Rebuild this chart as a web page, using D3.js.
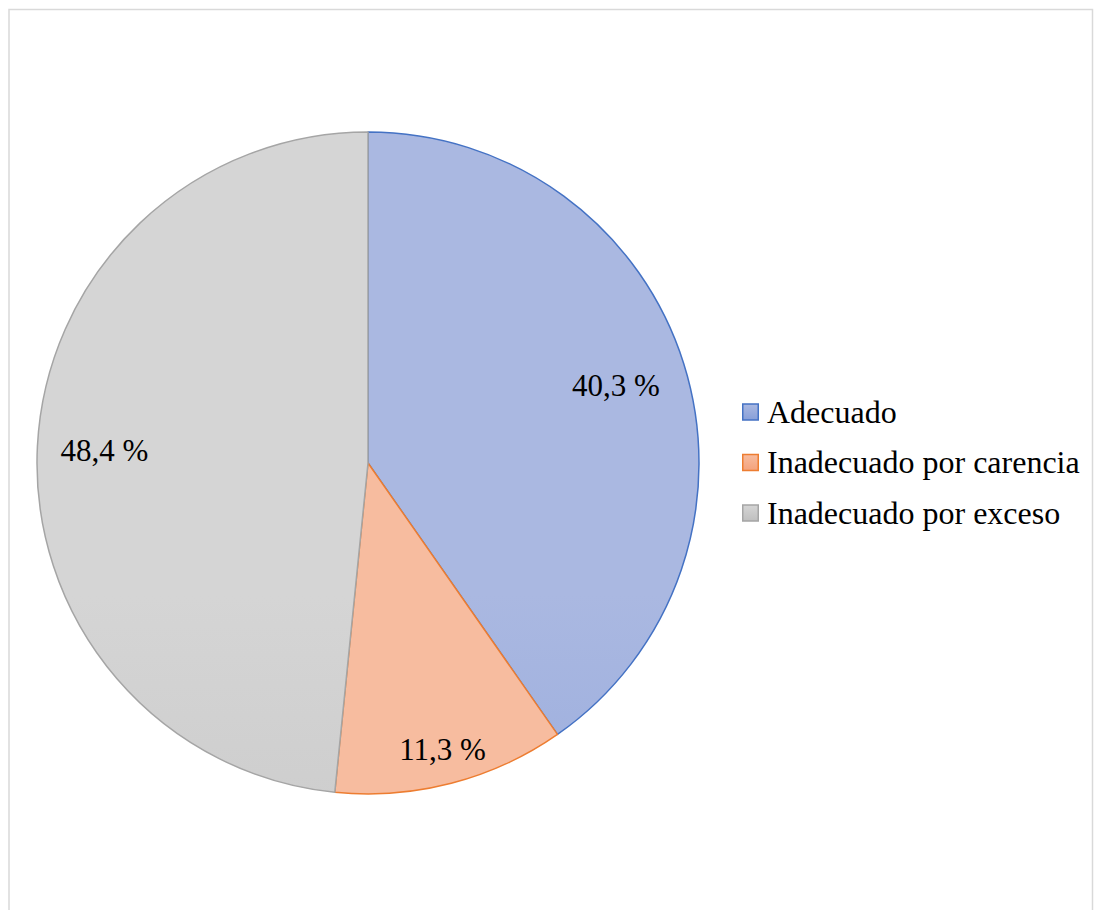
<!DOCTYPE html>
<html>
<head>
<meta charset="utf-8">
<script src="https://cdn.jsdelivr.net/npm/d3@7"></script>
<style>
  html, body { margin: 0; padding: 0; background: #ffffff; }
  svg { display: block; }
</style>
</head>
<body>
<svg id="chart" width="1094" height="910"></svg>
<script>
// ---- Data ----
const categories = ["Adecuado", "Inadecuado por carencia", "Inadecuado por exceso"];
const values = [40.3, 11.3, 48.4];
const valueLabels = ["40,3 %", "11,3 %", "48,4 %"];

// ---- Styles ----
const strokeColors = ["#4472c4", "#ed7d31", "#a5a5a5"];
const gradTop = ["#aab8e1", "#f7bc9f", "#d5d5d5"];
const gradBottom = ["#879fd9", "#f4a27c", "#bfbfbf"];
const FONT = "'Liberation Serif', 'Times New Roman', 'DejaVu Serif', serif";

const svg = d3.select("#chart");

// chart frame
svg.append("rect")
  .attr("x", 9).attr("y", 9.5)
  .attr("width", 1083.5).attr("height", 920)
  .attr("fill", "#fff")
  .attr("stroke", "#d9d9d9").attr("stroke-width", 1.5);

const cx = 368, cy = 463, r = 331;

const pie = d3.pie().sort(null).value(d => d);
const arcs = pie(values);
const arc = d3.arc().innerRadius(0).outerRadius(r);

const defs = svg.append("defs");
arcs.forEach((d, i) => {
  // gradient spans each slice's vertical extent
  const path = document.createElementNS("http://www.w3.org/2000/svg", "path");
  path.setAttribute("d", arc(d));
  svg.node().appendChild(path);
  const bb = path.getBBox();
  path.remove();
  const g = defs.append("linearGradient")
    .attr("id", "grad" + i)
    .attr("gradientUnits", "userSpaceOnUse")
    .attr("x1", 0).attr("x2", 0)
    .attr("y1", cy + bb.y).attr("y2", cy + bb.y + bb.height);
  g.append("stop").attr("offset", "0%").attr("stop-color", gradTop[i]);
  g.append("stop").attr("offset", "100%").attr("stop-color", gradBottom[i]);
  const lg = defs.append("linearGradient")
    .attr("id", "lgrad" + i)
    .attr("x1", 0).attr("x2", 0).attr("y1", 0).attr("y2", 1);
  lg.append("stop").attr("offset", "0%").attr("stop-color", gradTop[i]);
  lg.append("stop").attr("offset", "100%").attr("stop-color", gradBottom[i]);
});

const gPie = svg.append("g");
gPie.selectAll("path.slice")
  .data(arcs)
  .enter().append("path")
  .attr("class", "slice")
  .attr("transform", `translate(${cx},${cy})`)
  .attr("d", arc)
  .attr("fill", (d, i) => `url(#grad${i})`)
  .attr("stroke", (d, i) => strokeColors[i])
  .attr("stroke-width", 1.5)
  .attr("stroke-linejoin", "round");

// data labels (Excel "best fit" style placement)
const labelRadius = [260, 296, 264];
gPie.selectAll("text.lbl")
  .data(arcs)
  .enter().append("text")
  .attr("class", "lbl")
  .attr("transform", (d, i) => {
    const a = d3.arc().innerRadius(labelRadius[i]).outerRadius(labelRadius[i]);
    const [x, y] = a.centroid(d);
    return `translate(${cx + x},${cy + y})`;
  })
  .attr("text-anchor", "middle")
  .attr("dy", "0.35em")
  .attr("font-family", FONT)
  .attr("font-size", "31px")
  .attr("fill", "#000")
  .text((d, i) => valueLabels[i]);

// legend
const legY = d3.scalePoint().domain(categories).range([412, 513]);
const leg = svg.append("g");
const items = leg.selectAll("g.item").data(categories).enter().append("g")
  .attr("class", "item")
  .attr("transform", d => `translate(742,${legY(d)})`);
items.append("rect")
  .attr("x", 0.75).attr("y", -8)
  .attr("width", 15.5).attr("height", 16)
  .attr("fill", (d, i) => `url(#lgrad${i})`)
  .attr("stroke", (d, i) => strokeColors[i])
  .attr("stroke-width", 1.5);
items.append("text")
  .attr("x", 25).attr("y", 0)
  .attr("dy", "0.33em")
  .attr("font-family", FONT)
  .attr("font-size", "32px")
  .attr("fill", "#000")
  .text(d => d);
</script>
</body>
</html>
